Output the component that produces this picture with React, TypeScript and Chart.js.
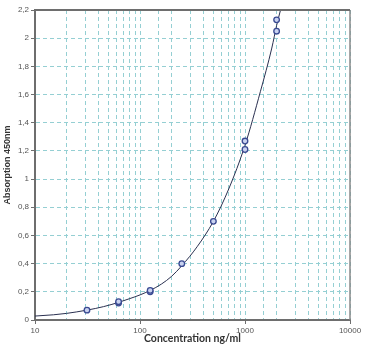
import React, { useEffect, useRef } from "react";
import { Chart, registerables } from "chart.js";
Chart.register(...registerables);

const concX = [31.25, 62.5, 62.5, 125, 125, 250, 500, 1000, 1000, 2000, 2000];
const absY = [0.07, 0.12, 0.13, 0.2, 0.21, 0.4, 0.7, 1.21, 1.27, 2.05, 2.13];

const curveX = [10, 15, 20, 31.25, 45, 62.5, 80, 100, 125, 160, 200, 250, 350, 500, 700, 1000, 1400, 1800, 2000, 2180];
const curveY = [0.028, 0.037, 0.047, 0.07, 0.095, 0.125, 0.152, 0.178, 0.21, 0.255, 0.31, 0.385, 0.52, 0.7, 0.93, 1.24, 1.62, 1.93, 2.09, 2.2];

const yTicks = [0, 0.2, 0.4, 0.6, 0.8, 1, 1.2, 1.4, 1.6, 1.8, 2, 2.2];
const xLabels = [10, 100, 1000, 10000];

const frame = {
  id: "frame",
  afterDraw(chart: any) {
    const { ctx, chartArea: a } = chart;
    ctx.save();
    ctx.setLineDash([]);
    ctx.strokeStyle = "#8a8a8a";
    ctx.lineWidth = 1.5;
    ctx.beginPath();
    ctx.moveTo(a.right, a.top);
    ctx.lineTo(a.right, a.bottom);
    ctx.stroke();
    ctx.strokeStyle = "#6e6e6e";
    ctx.lineWidth = 2;
    ctx.beginPath();
    ctx.moveTo(a.left, a.top);
    ctx.lineTo(a.right, a.top);
    ctx.stroke();
    ctx.restore();
  },
};

export default function App() {
  const ref = useRef<HTMLCanvasElement>(null);
  useEffect(() => {
    document.body.style.margin = "0";
    const chart = new Chart(ref.current!, {
      type: "scatter",
      data: {
        datasets: [
          {
            data: concX.map((x, i) => ({ x, y: absY[i] })),
            pointRadius: 2.8,
            pointBorderWidth: 1.3,
            pointBorderColor: "#3a4a92",
            pointBackgroundColor: "#c9d2f0",
            showLine: false,
          },
          {
            data: curveX.map((x, i) => ({ x, y: curveY[i] })),
            showLine: true,
            borderColor: "#2a3050",
            borderWidth: 1,
            pointRadius: 0,
            cubicInterpolationMode: "monotone",
          },
        ],
      },
      plugins: [frame],
      options: {
        animation: false,
        responsive: false,
        maintainAspectRatio: false,
        layout: { padding: { left: 0, right: 18, top: 10, bottom: 0 } },
        plugins: { legend: { display: false }, tooltip: { enabled: false } },
        scales: {
          x: {
            type: "logarithmic",
            min: 10,
            max: 10000,
            afterFit: (s: any) => { s.height = 28; },
            border: { color: "#6e6e6e", width: 2, dash: [4, 3] },
            grid: {
              color: "#95cfd3",
              lineWidth: 1,
              tickLength: 4,
              tickColor: (c: any) => (xLabels.includes(c.tick?.value) ? "#6e6e6e" : "rgba(0,0,0,0)"),
            },
            ticks: {
              autoSkip: false,
              maxRotation: 0,
              padding: 2,
              color: "#555",
              font: { family: "Liberation Sans", size: 8 },
              callback: (v: any) => (xLabels.includes(Number(v)) ? String(v) : ""),
            },
            title: {
              display: true,
              text: "Concentration ng/ml",
              color: "#333",
              font: { family: "Lato", size: 10.5, weight: "bold" },
              padding: { top: 0, bottom: 3 },
            },
          },
          y: {
            min: 0,
            max: 2.2,
            afterFit: (s: any) => { s.width = 35; },
            afterBuildTicks: (s: any) => { s.ticks = yTicks.map((v) => ({ value: v })); },
            border: { color: "#6e6e6e", width: 2, dash: [4, 3] },
            grid: {
              color: "#95cfd3",
              lineWidth: 1,
              tickLength: 4,
              tickColor: "#6e6e6e",
            },
            ticks: {
              padding: 2,
              color: "#555",
              font: { family: "Liberation Sans", size: 8 },
              callback: (v: any) => String(Math.round(Number(v) * 10) / 10).replace(".", ","),
            },
            title: {
              display: true,
              text: "Absorption 450nm",
              color: "#333",
              font: { family: "Liberation Sans", size: 9, weight: "bold" },
              padding: { top: 2, bottom: 0 },
            },
          },
        },
      },
    } as any);
    return () => chart.destroy();
  }, []);
  return (
    <div style={{ width: 368, height: 348, background: "#fff" }}>
      <canvas ref={ref} width={368} height={348} />
    </div>
  );
}
